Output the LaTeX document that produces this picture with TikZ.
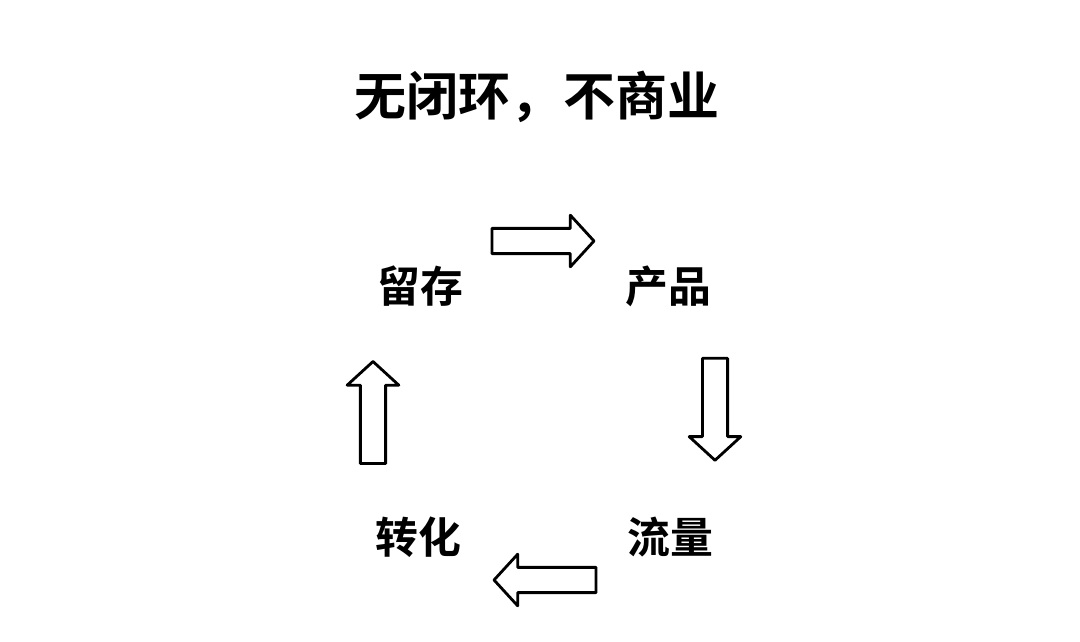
\documentclass[tikz,border=0pt]{standalone}
\usepackage{fontspec}
\newfontfamily\cjk{Noto Sans CJK SC}[BoldFont={Noto Sans CJK SC Bold}]
\usepackage{tikz}
\usetikzlibrary{shapes.arrows, positioning, calc}

\begin{document}
\begin{tikzpicture}[
    % Node styles
    titletext/.style={font=\cjk\bfseries\fontsize{37}{40}\selectfont, inner sep=0pt},
    stagetext/.style={font=\cjk\bfseries\fontsize{30.5}{34}\selectfont, inner sep=0pt},
    cyclearrow/.style={single arrow, draw=black, line width=2pt, line join=round, fill=white,
        minimum height=2.55cm, inner xsep=0pt, inner ysep=0.28cm,
        single arrow head extend=0.33cm, single arrow tip angle=95}
]

% Canvas
\useasboundingbox (0,0) rectangle (27,-16.025);

% Title
\node[titletext] (title) at (13.425, -2.425) {无闭环，不商业};

% Stages of the loop
\node[stagetext] (liucun) at (10.5, -7.15) {留存};
\node[stagetext] (chanpin) at (16.7, -7.15) {产品};
\node[stagetext] (liuliang) at (16.75, -13.425) {流量};
\node[stagetext] (zhuanhua) at (10.45, -13.425) {转化};

% Block arrows between stages
\node[cyclearrow] (arrowtop) at ($(liucun)!0.5!(chanpin) + (-0.17,1.125)$) {};
\node[cyclearrow, rotate=-90] (arrowright) at ($(chanpin)!0.5!(liuliang) + (1.15,0.2)$) {};
\node[cyclearrow, rotate=180] (arrowbottom) at ($(liuliang)!0.5!(zhuanhua) + (0.17,-1.075)$) {};
\node[cyclearrow, rotate=90] (arrowleft) at ($(zhuanhua)!0.5!(liucun) + (-1.15,-0.17)$) {};

\end{tikzpicture}
\end{document}
